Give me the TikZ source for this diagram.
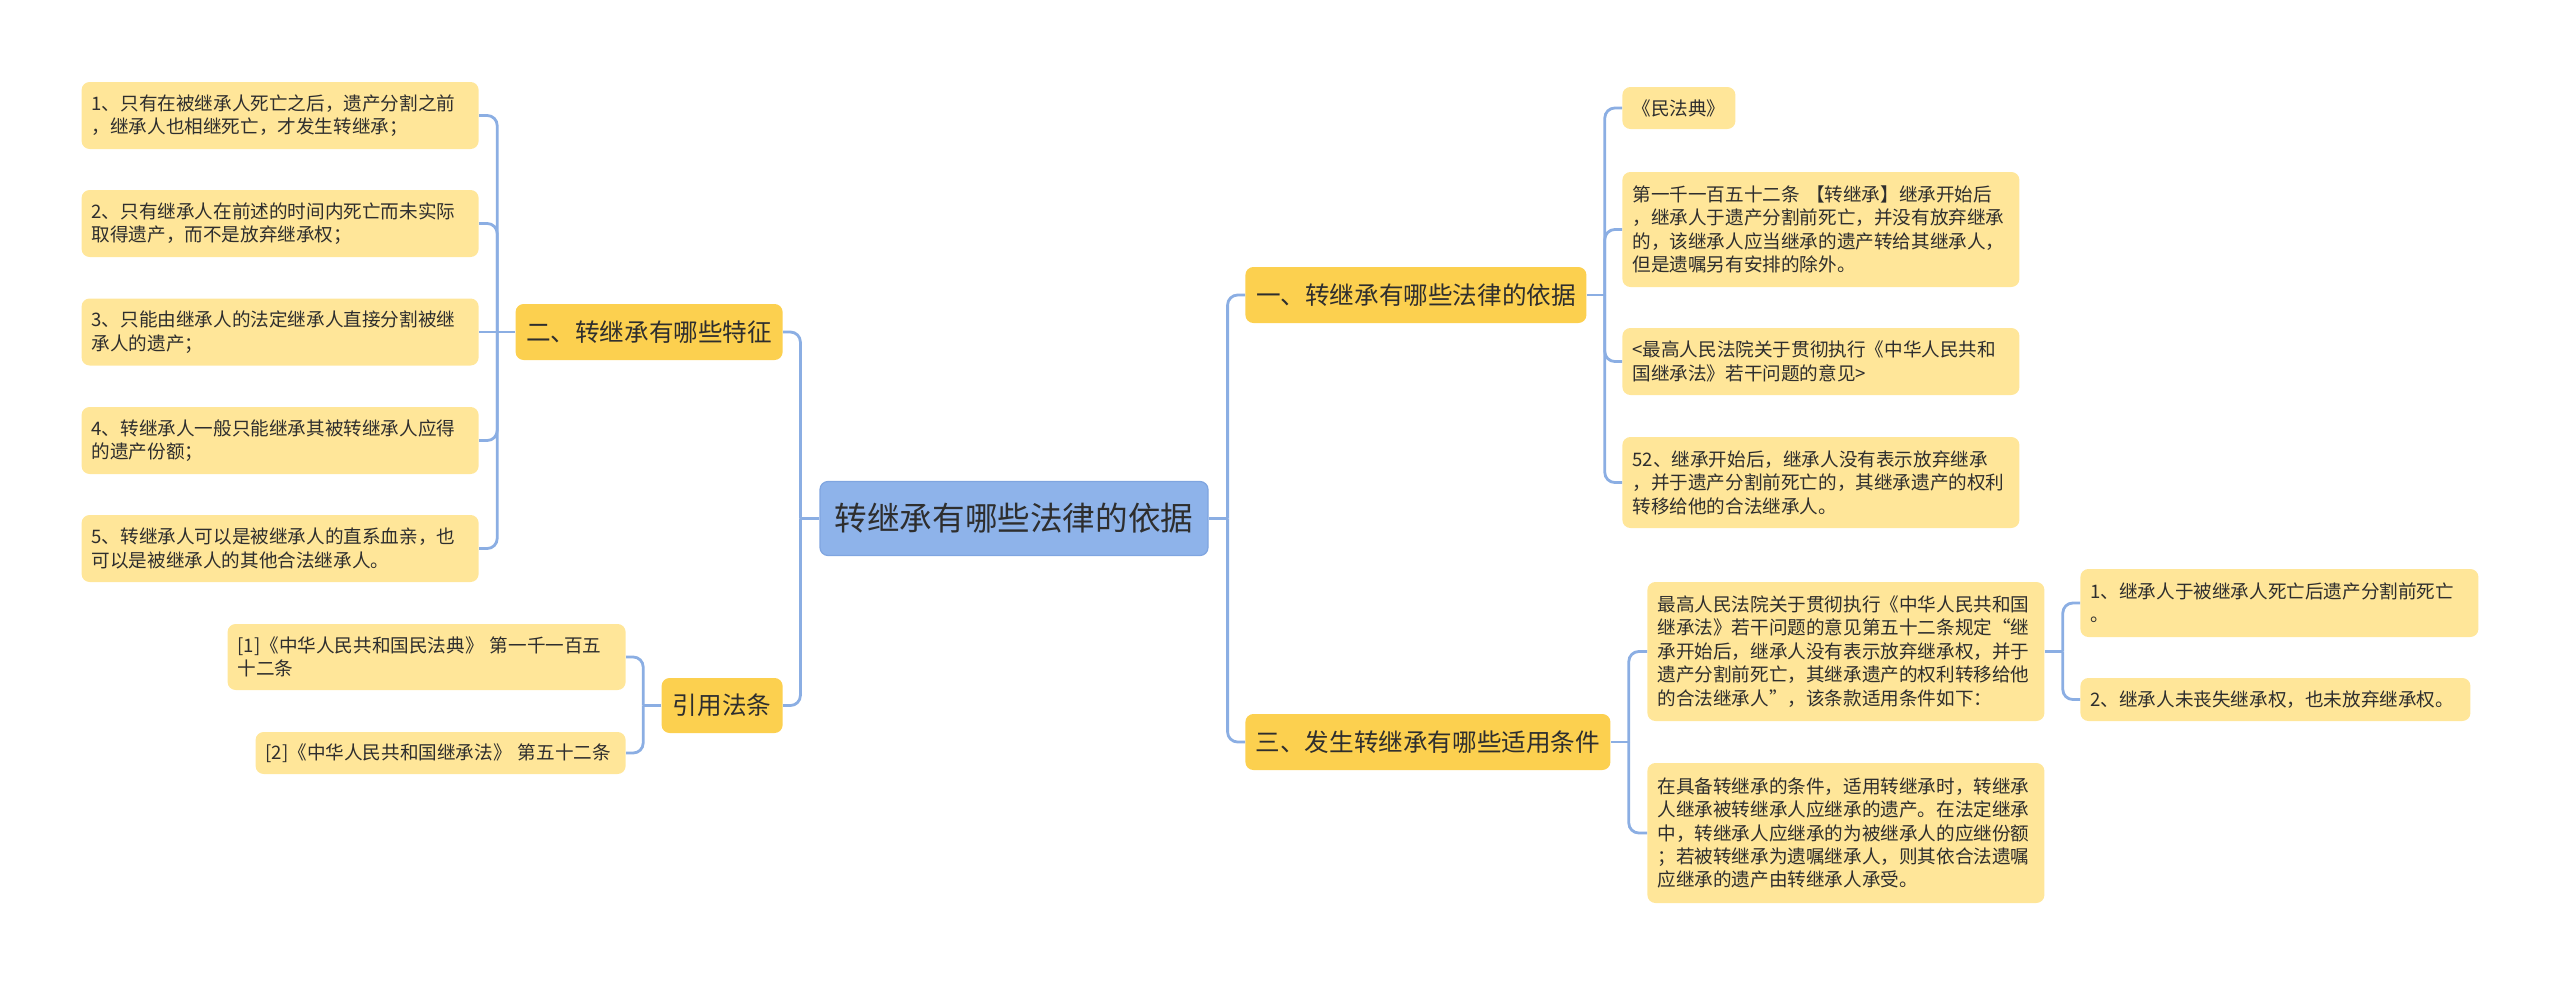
\documentclass[tikz,border=0pt]{standalone}
\usepackage{fontspec}
\setmainfont{Noto Sans CJK SC}
\usepackage{xcolor}
\usepackage{tikz}
\definecolor{leafyellow}{HTML}{FFE699}
\definecolor{branchyellow}{HTML}{FCD04F}
\definecolor{rootblue}{HTML}{8EB3EA}
\definecolor{rootline}{HTML}{7FA5E0}
\definecolor{linkblue}{HTML}{8BAEE3}
\definecolor{textdark}{HTML}{2E2E2E}
\newcommand\leaffont{\fontsize{9.3pt}{11.7pt}\selectfont}
\newcommand\branchfont{\fontsize{12.3pt}{15pt}\selectfont}
\newcommand\rootfont{\fontsize{16.3pt}{20pt}\selectfont}
\tikzset{
    box/.style={rectangle, rounded corners=4pt, text=textdark, inner sep=0pt},
    rootbox/.style={box, draw=rootline, fill=rootblue, line width=0.6pt, minimum width=194pt, minimum height=37pt, font=\rootfont},
    branchbox/.style={box, fill=branchyellow, minimum height=28pt, font=\branchfont},
    leafbox/.style={box, fill=leafyellow, inner xsep=5pt, text width=#1, align=left, font=\leaffont},
    link/.style={draw=linkblue, line width=1.4pt, rounded corners=5pt}
}

\begin{document}
\begin{tikzpicture}[x=0.5pt, y=-0.5pt]
    \useasboundingbox (0,0) rectangle (2560,985);

    \node (root) [rootbox] at (1014,518.5) {转继承有哪些法律的依据};

    \node (b2) [branchbox, minimum width=133.5pt, anchor=east] at (783,332) {二、转继承有哪些特征};
    \node (ref) [branchbox, minimum width=60.5pt, minimum height=27.5pt, anchor=east] at (783,705.5) {引用法条};
    \node (b1) [branchbox, minimum width=170.5pt, anchor=west] at (1245,295) {一、转继承有哪些法律的依据};
    \node (b3) [branchbox, minimum width=182.5pt, anchor=west] at (1245,742) {三、发生转继承有哪些适用条件};

    \node (l1) [leafbox=188.5pt, minimum height=33.5pt, anchor=east] at (479,115.5) {1、只有在被继承人死亡之后，遗产分割之前\\，继承人也相继死亡，才发生转继承；};
    \node (l2) [leafbox=188.5pt, minimum height=33.5pt, anchor=east] at (479,223.5) {2、只有继承人在前述的时间内死亡而未实际\\取得遗产，而不是放弃继承权；};
    \node (l3) [leafbox=188.5pt, minimum height=33.5pt, anchor=east] at (479,332) {3、只能由继承人的法定继承人直接分割被继\\承人的遗产；};
    \node (l4) [leafbox=188.5pt, minimum height=33.5pt, anchor=east] at (479,440.5) {4、转继承人一般只能继承其被转继承人应得\\的遗产份额；};
    \node (l5) [leafbox=188.5pt, minimum height=33.5pt, anchor=east] at (479,548.5) {5、转继承人可以是被继承人的直系血亲，也\\可以是被继承人的其他合法继承人。};

    \node (r1) [leafbox=189pt, minimum height=33pt, anchor=east] at (626,657) {[1]《中华人民共和国民法典》 第一千一百五\\十二条};
    \node (r2) [leafbox=175pt, minimum height=21pt, anchor=east] at (626,753) {[2]《中华人民共和国继承法》 第五十二条};

    \node (a1) [leafbox=46.5pt, minimum height=21pt, anchor=west] at (1622,108) {《民法典》};
    \node (a2) [leafbox=188.5pt, minimum height=57.5pt, anchor=west] at (1622,229.5) {第一千一百五十二条 【转继承】继承开始后\\，继承人于遗产分割前死亡，并没有放弃继承\\的，该继承人应当继承的遗产转给其继承人，\\但是遗嘱另有安排的除外。};
    \node (a3) [leafbox=188.5pt, minimum height=33.5pt, anchor=west] at (1622,361.5) {<最高人民法院关于贯彻执行《中华人民共和\\国继承法》若干问题的意见>};
    \node (a4) [leafbox=188.5pt, minimum height=45.5pt, anchor=west] at (1622,482.5) {52、继承开始后，继承人没有表示放弃继承\\，并于遗产分割前死亡的，其继承遗产的权利\\转移给他的合法继承人。};

    \node (c1) [leafbox=188.5pt, minimum height=69.5pt, anchor=west] at (1647,651.5) {最高人民法院关于贯彻执行《中华人民共和国\\继承法》若干问题的意见第五十二条规定“继\\承开始后，继承人没有表示放弃继承权，并于\\遗产分割前死亡，其继承遗产的权利转移给他\\的合法继承人”，该条款适用条件如下：};
    \node (c2) [leafbox=188.5pt, minimum height=70pt, anchor=west] at (1647,833) {在具备转继承的条件，适用转继承时，转继承\\人继承被转继承人应继承的遗产。在法定继承\\中，转继承人应继承的为被继承人的应继份额\\；若被转继承为遗嘱继承人，则其依合法遗嘱\\应继承的遗产由转继承人承受。};

    \node (d1) [leafbox=189pt, minimum height=34pt, anchor=west] at (2080,603) {1、继承人于被继承人死亡后遗产分割前死亡\\。};
    \node (d2) [leafbox=185pt, minimum height=21.5pt, anchor=west] at (2080,699.5) {2、继承人未丧失继承权，也未放弃继承权。};

    \draw [link] (root.west) -- ++(-9.5pt,0) coordinate (rootL);
    \draw [link] (rootL) |- (b2.east);
    \draw [link] (rootL) |- (ref.east);
    \draw [link] (root.east) -- ++(9.5pt,0) coordinate (rootR);
    \draw [link] (rootR) |- (b1.west);
    \draw [link] (rootR) |- (b3.west);

    \draw [link] (b2.west) -- ++(-9pt,0) coordinate (b2L);
    \draw [link] (b2L) |- (l1.east);
    \draw [link] (b2L) |- (l2.east);
    \draw [link] (b2L) -- (l3.east);
    \draw [link] (b2L) |- (l4.east);
    \draw [link] (b2L) |- (l5.east);

    \draw [link] (ref.west) -- ++(-9pt,0) coordinate (refL);
    \draw [link] (refL) |- (r1.east);
    \draw [link] (refL) |- (r2.east);

    \draw [link] (b1.east) -- ++(9pt,0) coordinate (b1R);
    \draw [link] (b1R) |- (a1.west);
    \draw [link] (b1R) |- (a2.west);
    \draw [link] (b1R) |- (a3.west);
    \draw [link] (b1R) |- (a4.west);

    \draw [link] (b3.east) -- ++(9pt,0) coordinate (b3R);
    \draw [link] (b3R) |- (c1.west);
    \draw [link] (b3R) |- (c2.west);

    \draw [link] (c1.east) -- ++(9pt,0) coordinate (c1R);
    \draw [link] (c1R) |- (d1.west);
    \draw [link] (c1R) |- (d2.west);
\end{tikzpicture}
\end{document}
